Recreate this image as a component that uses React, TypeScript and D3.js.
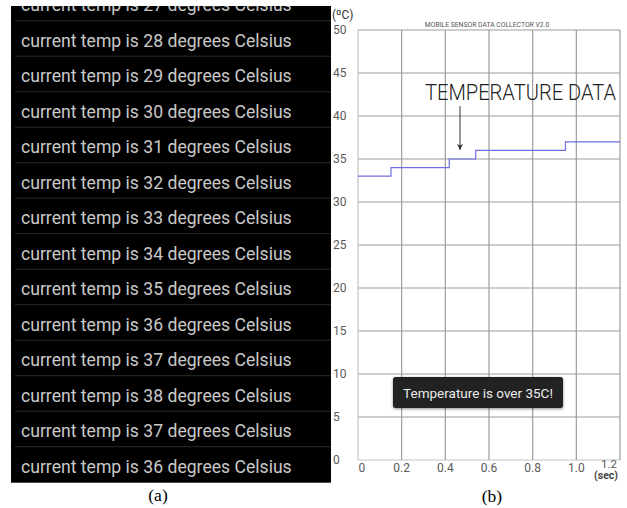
import React from "react";
import * as d3 from "d3";

// ---- data ----
const listTemps = [27, 28, 29, 30, 31, 32, 33, 34, 35, 36, 37, 38, 37, 36];
const stepTimes = [0, 0.151, 0.418, 0.539, 0.95, 1.2];
const stepTemps = [33, 34, 35, 36, 37, 37];
const yTicks = [0, 5, 10, 15, 20, 25, 30, 35, 40, 45, 50];
const xTicks = [0, 0.2, 0.4, 0.6, 0.8, 1.0, 1.2];
const xTickLabels = ["0", "0.2", "0.4", "0.6", "0.8", "1.0", "1.2"];
const chartTitle = "MOBILE SENSOR DATA COLLECTOR V2.0";
const annotation = "TEMPERATURE DATA";
const toastText = "Temperature is over 35C!";

const W = 627;
const H = 508;

export default function App() {
  const x = d3.scaleLinear().domain([0, 1.2]).range([358, 620]);
  const y = d3.scaleLinear().domain([0, 50]).range([460, 30]);

  // list panel
  const panel = { x0: 11, x1: 331, y0: 6, y1: 482.7 };
  const rowY = d3.scaleLinear().domain([0, 1]).range([20.7 - 35.5, 20.7]); // row i top
  const rowTop = (i: number) => rowY(0) + i * (rowY(1) - rowY(0));

  const line = d3
    .line<number>()
    .x((_, i) => x(stepTimes[i]))
    .y((d) => y(d))
    .curve(d3.curveStepAfter);

  const font = "Roboto, 'Noto Sans', sans-serif";

  return (
    <svg
      width={W}
      height={H}
      viewBox={`0 0 ${W} ${H}`}
      style={{ position: "absolute", left: 0, top: 0, background: "#fff" }}
    >
      <defs>
        <clipPath id="panelClip">
          <rect x={panel.x0} y={panel.y0} width={panel.x1 - panel.x0} height={panel.y1 - panel.y0} />
        </clipPath>
        <filter id="shadow" x="-10%" y="-30%" width="120%" height="160%">
          <feDropShadow dx="0" dy="1" stdDeviation="1.5" floodColor="#000" floodOpacity="0.45" />
        </filter>
        <marker id="arrow" viewBox="0 0 10 10" refX="10" refY="5" markerWidth="8" markerHeight="6" orient="auto" markerUnits="userSpaceOnUse">
          <path d="M0,0 L10,5 L0,10 L2.5,5 Z" fill="#333" />
        </marker>
      </defs>

      {/* (a) list panel */}
      <rect x={panel.x0} y={panel.y0} width={panel.x1 - panel.x0} height={panel.y1 - panel.y0} fill="#000" />
      <g clipPath="url(#panelClip)">
        {listTemps.map((t, i) => {
          const top = rowTop(i);
          return (
            <g key={i}>
              {i > 0 && (
                <line x1={15} x2={panel.x1} y1={top} y2={top} stroke="#2b2b2b" strokeWidth={1} />
              )}
              <text x={21} y={top + 26} fill="#c9c9c9" fontFamily={font} fontSize={17.6}>
                {`current temp is ${t} degrees Celsius`}
              </text>
            </g>
          );
        })}
      </g>

      {/* (b) chart */}
      <g>
        {/* horizontal gridlines */}
        {yTicks.map((t) => (
          <line
            key={"h" + t}
            x1={x(0)}
            x2={x(1.2)}
            y1={y(t)}
            y2={y(t)}
            stroke={t === 0 ? "#c4c4c4" : "#9c9c9c"}
            strokeWidth={1.2}
          />
        ))}
        {/* vertical gridlines */}
        {xTicks.map((t) => (
          <line
            key={"v" + t}
            x1={x(t)}
            x2={x(t)}
            y1={y(50)}
            y2={y(0)}
            stroke={t === 0 ? "#c4c4c4" : "#9c9c9c"}
            strokeWidth={1.2}
          />
        ))}

        {/* y tick labels */}
        {yTicks.map((t) => (
          <text
            key={"yl" + t}
            x={333}
            y={y(t)}
            dy="0.36em"
            fill="#5a5a5a"
            fontFamily={font}
            fontSize={12}
          >
            {t}
          </text>
        ))}
        <text x={332} y={19} fill="#333" fontFamily={font} fontSize={12}>
          (ºC)
        </text>

        {/* x tick labels */}
        {xTicks.map((t, i) => {
          const last = i === xTicks.length - 1;
          const first = i === 0;
          return (
            <text
              key={"xl" + t}
              x={first ? x(t) + 0.5 : last ? x(t) - 3 : x(t)}
              y={last ? 467.5 : 471.5}
              textAnchor={first ? "start" : last ? "end" : "middle"}
              fill="#5a5a5a"
              fontFamily={font}
              fontSize={last ? 11.5 : 12}
            >
              {xTickLabels[i]}
            </text>
          );
        })}
        <text x={618} y={478.5} textAnchor="end" fill="#444" fontFamily={font} fontSize={10.5} fontWeight={700}>
          (sec)
        </text>

        {/* title */}
        <text x={487} y={26.5} textAnchor="middle" fill="#555" fontFamily={font} fontSize={6.8}>
          {chartTitle}
        </text>

        {/* step line */}
        <path d={line(stepTemps) || ""} fill="none" stroke="#6f6fe2" strokeWidth={1.2} />

        {/* annotation */}
        <text
          x={425}
          y={100}
          fill="#222"
          fontFamily={font}
          fontWeight={300}
          fontSize={22}
          textLength={191}
          lengthAdjust="spacingAndGlyphs"
        >
          {annotation}
        </text>
        <line x1={460} x2={460} y1={106} y2={150} stroke="#333" strokeWidth={1} markerEnd="url(#arrow)" />

        {/* toast */}
        <rect x={393} y={377} width={170} height={31} rx={2.5} fill="#232323" filter="url(#shadow)" />
        <text x={478} y={397.5} textAnchor="middle" fill="#ececec" fontFamily={font} fontSize={13.5}>
          {toastText}
        </text>
      </g>

      {/* captions */}
      <text x={158} y={501} textAnchor="middle" fill="#000" fontFamily="'Liberation Serif', 'Times New Roman', serif" fontSize={17.5}>
        (a)
      </text>
      <text x={492} y={502} textAnchor="middle" fill="#000" fontFamily="'Liberation Serif', 'Times New Roman', serif" fontSize={17.5}>
        (b)
      </text>
    </svg>
  );
}
